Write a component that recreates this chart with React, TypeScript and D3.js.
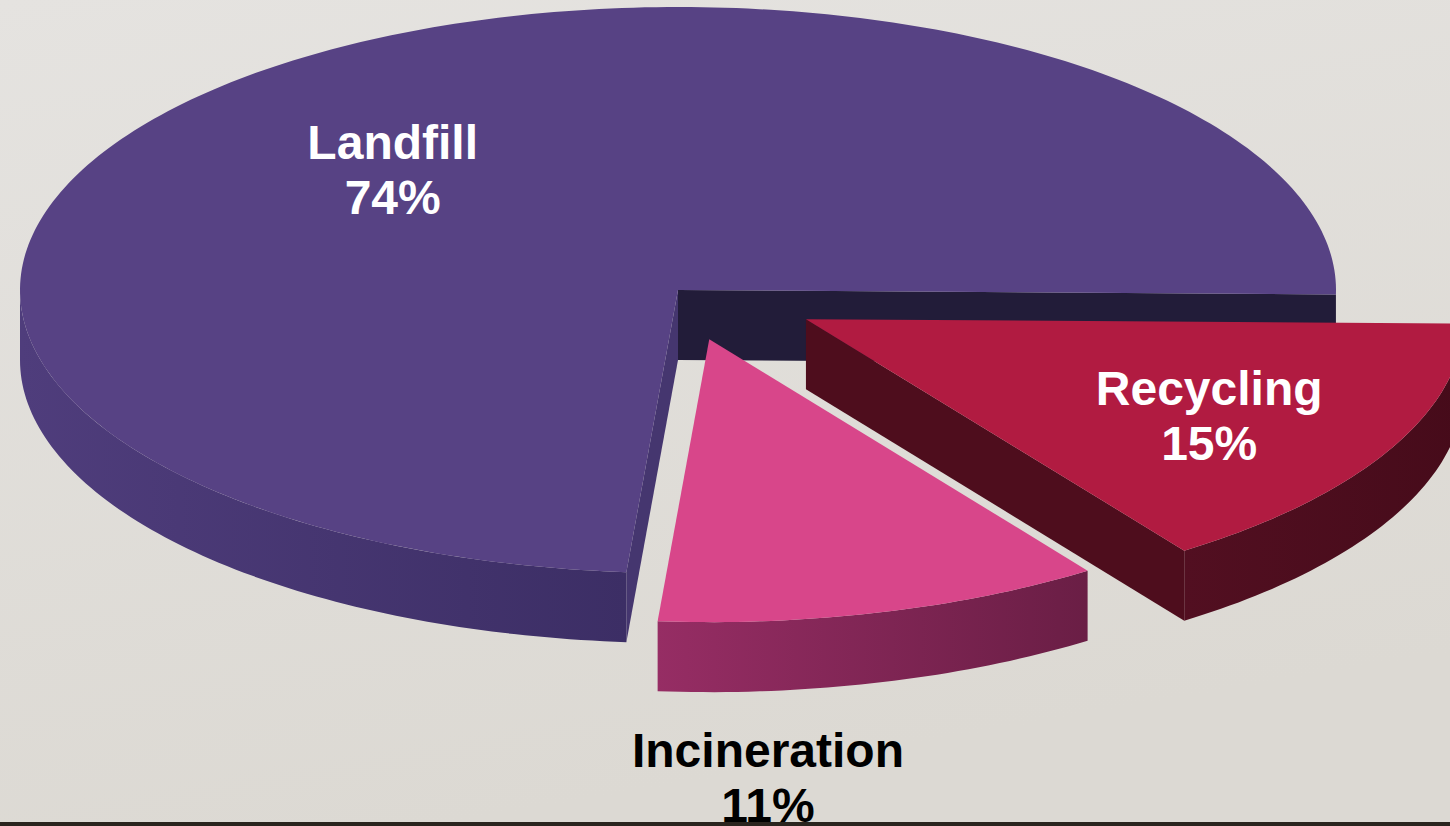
import * as d3 from 'd3';

// chart data
const categories = ['Landfill', 'Recycling', 'Incineration'];
const shares = [74, 15, 11];

const W = 1450;
const H = 826;

// projection of the tilted pie (ellipse of the top face, depth of the slab)
const CX = 678;
const CY = 290;
const RX = 658;
const RY = 283;
const DEPTH = 70;
const START_DEG = -175.5;

// per-slice styling
const EXPLODE = [0, 0.22, 0.18];
const TOP_FILL = ['#574284', '#b11b41', '#d8468a'];
const SIDE_FROM = ['#4f3d7c', '#520f21', '#962d64'];
const SIDE_TO = ['#3c2e65', '#460b1a', '#6a1e45'];
const FACE_START = ['#45366f', '#560e20', '#7d2453'];
const FACE_END = ['#221c39', '#4e0d1d', '#7d2453'];
const LABEL_FILL = ['#ffffff', '#ffffff', '#000000'];
const LABEL_R = [0.61, 0.7, 1.55];
const LABEL_TURN = [-3, 1, 12];

type Pt = [number, number];

const rad = (d: number) => (d * Math.PI) / 180;

const line = d3.line<Pt>();

function arcPts(ox: number, oy: number, a0: number, a1: number, dy: number): Pt[] {
  const n = Math.max(6, Math.ceil(Math.abs(a1 - a0) / rad(1)));
  return d3.range(n + 1).map((i) => {
    const a = a0 + ((a1 - a0) * i) / n;
    return [ox + RX * Math.cos(a), oy + RY * Math.sin(a) + dy] as Pt;
  });
}

// parts of [a0,a1] that lie in the front half (sin > 0) of the ellipse
function frontRanges(a0: number, a1: number): Array<[number, number]> {
  const out: Array<[number, number]> = [];
  for (let k = -2; k <= 2; k++) {
    const lo = Math.max(a0, k * 2 * Math.PI);
    const hi = Math.min(a1, k * 2 * Math.PI + Math.PI);
    if (hi > lo) out.push([lo, hi]);
  }
  return out;
}

export default function App() {
  const pie = d3
    .pie<number>()
    .sort(null)
    .startAngle(rad(START_DEG))
    .endAngle(rad(START_DEG) + 2 * Math.PI);
  const arcs = pie(shares);

  const slices = arcs.map((a, i) => {
    // d3 angles are from 12 o'clock; turn them into screen angles from 3 o'clock
    const s = a.startAngle - Math.PI / 2;
    const e = a.endAngle - Math.PI / 2;
    const mid = (s + e) / 2;
    const ox = CX + EXPLODE[i] * RX * Math.cos(mid);
    const oy = CY + EXPLODE[i] * RY * Math.sin(mid);
    const apex: Pt = [ox, oy];
    const apexB: Pt = [ox, oy + DEPTH];

    const top = line([apex, ...arcPts(ox, oy, s, e, 0), apex]) + 'Z';
    const sides = frontRanges(s, e).map(
      ([lo, hi]) => line([...arcPts(ox, oy, lo, hi, 0), ...arcPts(ox, oy, hi, lo, DEPTH)]) + 'Z'
    );
    const radial = (ang: number) => {
      const rim: Pt = [ox + RX * Math.cos(ang), oy + RY * Math.sin(ang)];
      return line([apex, rim, [rim[0], rim[1] + DEPTH], apexB]) + 'Z';
    };
    const faces: Array<{ d: string; fill: string }> = [];
    if (Math.cos(s) < 0) faces.push({ d: radial(s), fill: FACE_START[i] });
    if (Math.cos(e) > 0) faces.push({ d: radial(e), fill: FACE_END[i] });

    const la = mid + rad(LABEL_TURN[i]);
    const lx = ox + LABEL_R[i] * RX * Math.cos(la);
    const ly = oy + LABEL_R[i] * RY * Math.sin(la);

    return { i, top, sides, faces, lx, ly };
  });

  return (
    <svg
      width={W}
      height={H}
      viewBox={`0 0 ${W} ${H}`}
      style={{ position: 'fixed', left: 0, top: 0, display: 'block' }}
    >
      <defs>
        <linearGradient id="bg" x1="0" y1="0" x2="0.3" y2="1">
          <stop offset="0" stopColor="#e5e3e0" />
          <stop offset="1" stopColor="#dcd9d3" />
        </linearGradient>
        {slices.map((sl) => (
          <linearGradient key={sl.i} id={`side${sl.i}`} x1="0" y1="0" x2="1" y2="0">
            <stop offset="0" stopColor={SIDE_FROM[sl.i]} />
            <stop offset="1" stopColor={SIDE_TO[sl.i]} />
          </linearGradient>
        ))}
      </defs>
      <rect x={0} y={0} width={W} height={H} fill="url(#bg)" />

      {slices.map((sl) => (
        <g key={categories[sl.i]}>
          {sl.sides.map((d, k) => (
            <path key={k} d={d} fill={`url(#side${sl.i})`} />
          ))}
          {sl.faces.map((f, k) => (
            <path key={k} d={f.d} fill={f.fill} />
          ))}
          <path d={sl.top} fill={TOP_FILL[sl.i]} />
        </g>
      ))}

      {slices.map((sl) => (
        <text
          key={categories[sl.i]}
          x={sl.lx}
          textAnchor="middle"
          fontFamily="'Liberation Sans', Arial, sans-serif"
          fontWeight="bold"
          fontSize={48}
          fill={LABEL_FILL[sl.i]}
        >
          <tspan x={sl.lx} y={sl.ly - 10}>
            {categories[sl.i]}
          </tspan>
          <tspan x={sl.lx} y={sl.ly + 45}>
            {`${shares[sl.i]}%`}
          </tspan>
        </text>
      ))}

      <rect x={0} y={822} width={W} height={H - 822} fill="#2a241e" />
    </svg>
  );
}
